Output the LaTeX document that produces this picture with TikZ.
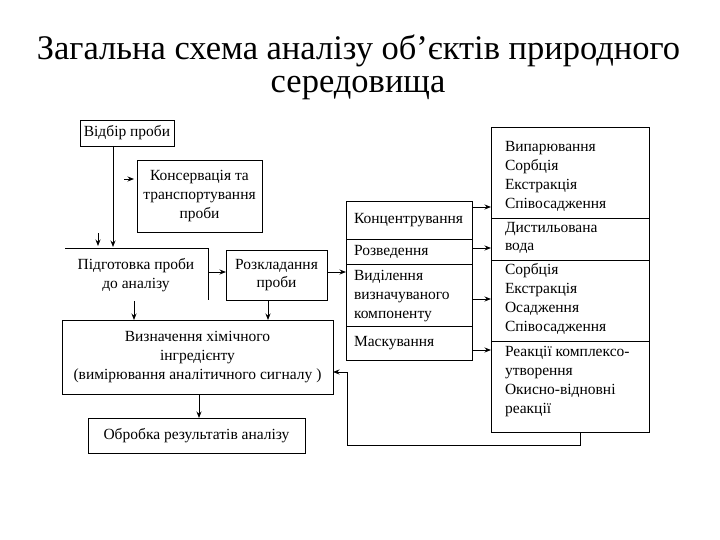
\documentclass[tikz,border=0pt]{standalone}
\usepackage{fontspec}
\setmainfont{Liberation Serif}
\usetikzlibrary{arrows.meta}
\begin{document}
\begin{tikzpicture}[x=1pt,y=-1pt,
  every node/.style={inner sep=0pt,outer sep=0pt},
  box/.style={draw,line width=0.8pt,align=center,font=\fontsize{15.5}{18.8}\selectfont},
  txt/.style={align=left,anchor=west,font=\fontsize{15.5}{18.8}\selectfont},
  ln/.style={line width=0.8pt},
  arr/.style={line width=0.8pt,-{Stealth[length=6.5pt,width=5pt]}},
  title/.style={font=\fontsize{34.5}{38}\selectfont,anchor=base}]
\useasboundingbox (0,0) rectangle (720,540);
% title
\node[title] (t1) at (358.5,60) {Загальна схема аналізу об’єктів природного};
\node[title] (t2) at (358,93) {середовища};
% left boxes
\node[box,minimum width=94pt,minimum height=26pt] (otbir) at (127,133) {Відбір проби};
\node[box,minimum width=125pt,minimum height=72pt] (kons) at (199.5,196) {Консервація та\\транспортування\\проби};
\node[align=center,font=\fontsize{15.5}{18.8}\selectfont] (pidg) at (136,275) {Підготовка проби\\до аналізу};
\draw[ln] (65,248) -- (208,248) -- (208,300);
\node[box,minimum width=101pt,minimum height=50pt] (rozk) at (276.5,275) {Розкладання\\проби};
\node[box,minimum width=271pt,minimum height=74pt] (vyzn) at (197.5,357) {Визначення хімічного\\інгредієнту\\(вимірювання аналітичного сигналу )};
\node[box,minimum width=217pt,minimum height=35pt] (obr) at (196.5,435.5) {Обробка результатів аналізу};
% left stack
\node[draw,line width=0.8pt,minimum width=126pt,minimum height=159pt] (ls) at (409,280.5) {};
\draw[ln] (346,239) -- (472,239);
\draw[ln] (346,264) -- (472,264);
\draw[ln] (346,326) -- (472,326);
\node[txt] (l1) at (354,220) {Концентрування};
\node[txt] (l2) at (354,251.5) {Розведення};
\node[txt] (l3) at (354,296) {Виділення\\визначуваного\\компоненту};
\node[txt] (l4) at (354,343) {Маскування};
% right stack
\node[draw,line width=0.8pt,minimum width=158pt,minimum height=305pt] (rs) at (570,279.5) {};
\draw[ln] (491,218) -- (649,218);
\draw[ln] (491,260) -- (649,260);
\draw[ln] (491,341) -- (649,341);
\node[txt] (r1) at (505,176.5) {Випарювання\\Сорбція\\Екстракція\\Співосадження};
\node[txt] (r2) at (505,238) {Дистильована\\вода};
\node[txt] (r3) at (505,299) {Сорбція\\Екстракція\\Осадження\\Співосадження};
\node[txt] (r4) at (505,381.5) {Реакції комплексо-\\утворення\\Окисно-відновні\\реакції};
% coordinates
\coordinate (a1) at (113,247);
\coordinate (s1a) at (124,179);
\coordinate (s1b) at (134,179);
\coordinate (s2a) at (98,233);
\coordinate (s2b) at (98,246);
\coordinate (p1) at (208,272);
\coordinate (p2) at (134,301);
\coordinate (f1) at (580,445);
\coordinate (f2) at (347,445);
\coordinate (f3) at (347,372);
% connectors
\draw[arr] (otbir.south -| a1) -- (a1);
\draw[arr] (s1a) -- (s1b);
\draw[arr] (s2a) -- (s2b);
\draw[arr] (p1) -- (rozk.west |- p1);
\draw[arr] (rozk.east |- p1) -- (ls.west |- p1);
\draw[arr] (p2) -- (vyzn.north -| p2);
\draw[arr] (rozk.south -| 268,0) -- (vyzn.north -| 268,0);
\draw[arr] (vyzn.south -| 199,0) -- (obr.north -| 199,0);
\draw[arr] (ls.east |- 0,207) -- (rs.west |- 0,207);
\draw[arr] (ls.east |- 0,248) -- (rs.west |- 0,248);
\draw[arr] (ls.east |- 0,299) -- (rs.west |- 0,299);
\draw[arr] (ls.east |- 0,350) -- (rs.west |- 0,350);
\draw[arr] (rs.south -| f1) -- (f1) -- (f2) -- (f3) -- (vyzn.east |- f3);
\end{tikzpicture}
\end{document}
